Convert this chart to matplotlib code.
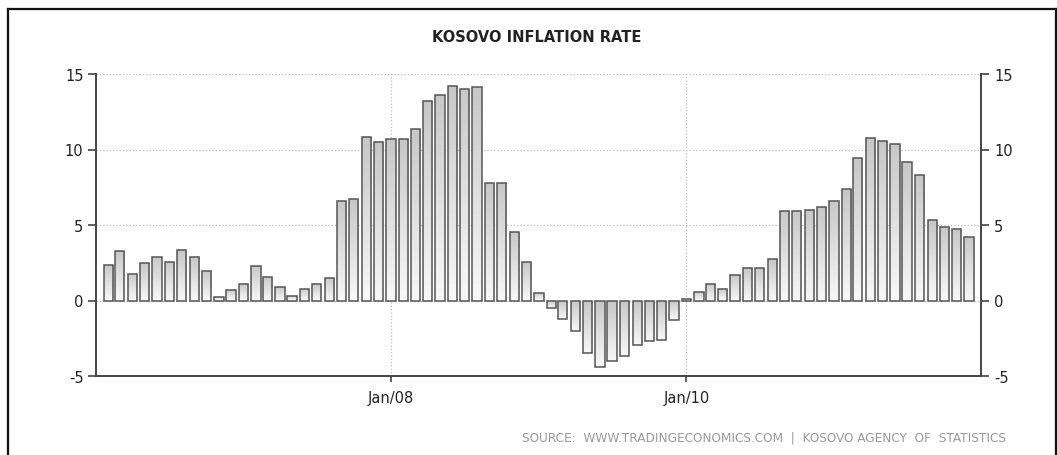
import numpy as np
import pandas as pd
import matplotlib
matplotlib.use("Agg")
import matplotlib.pyplot as plt
import matplotlib.dates as mdates
from matplotlib.lines import Line2D

# monthly inflation, Feb 2006 .. Dec 2011
months = pd.date_range("2006-02-01", "2011-12-01", freq="MS")
inflation = [
    2.35, 3.25, 1.76, 2.49, 2.86, 2.57, 3.36, 2.86, 1.98, 0.20, 0.70,
    1.08, 2.27, 1.58, 0.88, 0.29, 0.79, 1.08, 1.47, 6.62, 6.71, 10.86,
    10.47, 10.67, 10.67, 11.35, 13.24, 13.64, 14.23, 14.01, 14.12, 7.79,
    7.79, 4.53, 2.57, 0.48, -0.51, -1.21, -2.00, -3.50, -4.38, -3.98,
    -3.68, -2.97, -2.71, -2.60, -1.30, 0.10, 0.59, 1.08, 0.79, 1.67,
    2.16, 2.16, 2.75, 5.92, 5.92, 6.00, 6.22, 6.62, 7.41, 9.46, 10.75,
    10.56, 10.34, 9.17, 8.29, 5.32, 4.84, 4.73, 4.22,
]
yticks = [-5, 0, 5, 10, 15]
xticks = ["2008-01-01", "2010-01-01"]
xlabels = ["Jan/08", "Jan/10"]

W, H = 1057, 456
fig = plt.figure(figsize=(W / 100, H / 100), dpi=100)
ax = fig.add_axes([96 / W, 1 - 377 / H, (981.5 - 96) / W, (377 - 75) / H])

x = mdates.date2num(months)
bars = ax.bar(x, inflation, width=23, facecolor="none", edgecolor="#555555",
              linewidth=1.1, zorder=3)

# vertical grey gradient inside each bar, darker at the top
grad = np.linspace(0.78, 0.97, 64).reshape(-1, 1)
for b in bars:
    x0, y0 = b.get_x(), b.get_y()
    w, h = b.get_width(), b.get_height()
    lo, hi = min(y0, y0 + h), max(y0, y0 + h)
    im = ax.imshow(grad, cmap="gray", vmin=0, vmax=1, aspect="auto",
                   extent=[x0, x0 + w, lo, hi], origin="upper", zorder=2,
                   interpolation="bilinear")
    im.set_clip_path(b)

ax.set_xlim(mdates.date2num(pd.Timestamp("2006-01-01")),
            mdates.date2num(pd.Timestamp("2012-01-01")))
ax.set_ylim(-5, 15)

ax.set_yticks(yticks)
ax.set_yticklabels([str(v) for v in yticks])
ax.set_xticks(mdates.date2num(pd.to_datetime(xticks)))
ax.set_xticklabels(xlabels)

ax.tick_params(axis="y", which="both", left=True, right=True, labelleft=True,
               labelright=True, length=6, width=1.2, color="#444444",
               labelsize=10.5, labelcolor="#222222", pad=3, direction="out")
ax.tick_params(axis="x", length=4, width=1.2, color="#444444", labelsize=10.5,
               labelcolor="#222222", pad=6)

ax.grid(True, linestyle=":", color="#bbbbbb", linewidth=0.9, zorder=0)
ax.set_axisbelow(True)
for side in ["left", "right", "bottom"]:
    ax.spines[side].set_color("#444444")
    ax.spines[side].set_linewidth(1.4)
ax.spines["top"].set_visible(False)

fig.text(537 / W, 1 - 38 / H, "KOSOVO INFLATION RATE", ha="center", va="center",
         fontsize=10.5, fontweight="bold", color="#222222")
fig.text(1006 / W, 1 - 438 / H,
         "SOURCE:  WWW.TRADINGECONOMICS.COM  |  KOSOVO AGENCY  OF  STATISTICS",
         ha="right", va="center", fontsize=8.7, color="#999999")

# outer frame (left, top, right)
fig.add_artist(Line2D([8 / W, 8 / W], [0, 1 - 10 / H], transform=fig.transFigure,
                      color="#111111", linewidth=1.6))
fig.add_artist(Line2D([8 / W, 1056 / W], [1 - 10 / H, 1 - 10 / H],
                      transform=fig.transFigure, color="#111111", linewidth=1.6))
fig.add_artist(Line2D([1055.5 / W, 1055.5 / W], [0, 1 - 10 / H],
                      transform=fig.transFigure, color="#111111", linewidth=1.6))

fig.savefig("out.png", dpi=100)
